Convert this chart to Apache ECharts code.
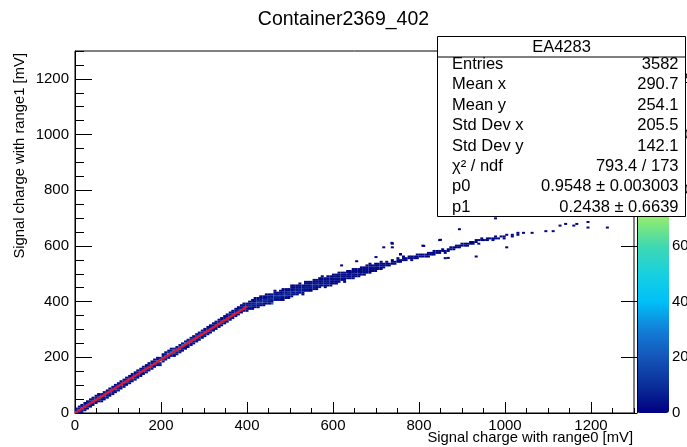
<!DOCTYPE html>
<html>
<head>
<meta charset="utf-8">
<script src="https://cdn.jsdelivr.net/npm/echarts@6/dist/echarts.min.js"></script>
<style>html,body{margin:0;padding:0;background:#fff;}#c{width:687px;height:447px;}</style>
</head>
<body>
<div id="c"></div>
<script>
const chartTitle = 'Container2369_402';
const xTitle = 'Signal charge with range0 [mV]';
const yTitle = 'Signal charge with range1 [mV]';
const axisRange = [0, 1300];
const zRange = [0, 130];
const statsTitle = 'EA4283';
const statLabels = ['Entries', 'Mean x', 'Mean y', 'Std Dev x', 'Std Dev y', 'χ² / ndf', 'p0', 'p1'];
const statValues = ['3582', '290.7', '254.1', '205.5', '142.1', '793.4 / 173', '0.9548 ± 0.003003', '0.2438 ± 0.6639'];
const fitSlope = 0.9548;
const fitIntercept = 0.2438;
const fitRange = [0, 400];

// [x bin centre, y bin centre, entries]
const linearBins = [
[3,3,30],[3,10,6],
[10,3,5],[10,10,25],[10,16,6],
[16,10,8],[16,16,22],[16,23,9],
[23,16,7],[23,23,20],[23,29,10],
[29,23,6],[29,29,18],[29,36,12],
[36,29,8],[36,36,16],[36,42,9],[36,49,3],
[42,36,7],[42,42,17],[42,49,8],
[49,42,9],[49,49,16],[49,55,6],
[55,49,10],[55,55,15],[55,62,5],
[62,55,11],[62,62,14],[62,49,3],
[68,62,12],[68,68,13],[68,55,4],
[75,68,14],[75,75,10],[75,62,5],
[81,75,15],[81,81,9],[81,68,6],
[88,81,14],[88,88,8],[88,75,7],
[94,88,16],[94,94,7],[94,81,8],
[101,94,15],[101,101,9],[101,88,6],
[107,101,16],[107,107,8],[107,94,7],
[114,107,14],[114,114,10],[114,101,6],
[120,114,17],[120,120,7],[120,107,8],
[127,120,16],[127,127,9],[127,114,7],
[133,127,18],[133,133,6],[133,120,8],
[140,133,17],[140,140,8],[140,127,7],
[146,140,19],[146,133,9],[146,146,5],
[153,146,20],[153,140,8],[153,153,6],
[159,153,21],[159,146,7],[159,159,6],
[166,159,22],[166,153,9],[166,166,4],
[172,166,24],[172,159,10],[172,172,5],
[179,172,26],[179,166,9],[179,179,4],
[185,179,28],[185,172,11],[185,185,5],
[192,185,30],[192,179,12],[192,192,4],
[198,185,95],[198,192,25],[198,179,9],
[205,198,32],[205,192,14],[205,205,5],
[211,205,30],[211,198,12],[211,211,6],
[218,211,44],[218,205,15],[218,218,8],
[224,218,35],[224,211,12],[224,224,6],
[231,218,28],[231,224,30],[231,211,7],
[237,224,26],[237,231,22],[237,218,6],
[244,231,28],[244,237,20],[244,224,7],
[250,244,38],[250,237,18],[250,231,5],
[257,250,30],[257,244,16],[257,237,6],
[263,250,24],[263,257,18],[263,244,6],
[270,257,26],[270,263,14],[270,250,5],
[276,263,24],[276,270,12],[276,257,6],
[283,270,22],[283,276,12],[283,263,5],
[289,276,20],[289,283,11],[289,270,6],
[296,283,21],[296,289,9],[296,276,5],
[302,289,19],[302,283,8],[302,296,6],
[309,296,18],[309,289,9],[309,302,5],
[315,302,17],[315,296,8],[315,309,4],
[322,309,16],[322,302,7],[322,315,5],
[328,315,15],[328,309,8],[328,322,4],
[335,322,14],[335,315,7],[335,328,5],
[341,328,14],[341,322,6],[341,335,4],
[348,335,13],[348,328,6],[348,341,4],
[354,341,12],[354,335,7],[354,348,3],
[361,348,12],[361,341,5],[361,354,4],
[367,354,11],[367,348,6],[367,361,3],
[374,361,11],[374,354,5],[374,367,3],
[380,367,10],[380,361,6],[380,374,3],
[387,374,10],[387,367,5],[387,380,3],
[393,380,9],[393,374,5],[393,387,3],
[400,380,9],[400,387,6],[400,374,4]
];

const linearEdgeBins = [
[3,16,2],[10,23,2],[16,3,2],[16,29,2],[23,10,3],[23,36,1],[29,16,2],[29,42,2],
[36,23,2],[42,29,2],[42,55,2],[49,36,3],[49,62,1],[55,42,2],[55,68,1],[62,42,1],[62,68,3],
[68,49,1],[68,75,3],[75,55,2],[75,81,2],[81,62,2],[81,88,2],[88,68,2],[88,94,3],
[94,75,2],[94,101,2],[101,81,2],[101,107,3],[107,88,2],[107,114,2],[114,94,2],[114,120,3],
[120,101,3],[120,127,2],[127,107,2],[127,133,2],[133,114,2],[133,140,3],[140,120,2],[140,146,2],
[146,127,3],[146,153,2],[153,133,2],[153,159,2],[159,140,2],[159,166,3],[166,146,2],[166,172,2],
[172,153,3],[172,179,2],[179,159,2],[179,185,2],[185,166,2],[185,192,3],[192,172,3],[192,198,2],
[198,172,3],[198,198,6],[205,185,4],[205,211,2],[211,192,3],[211,218,2],[218,198,4],[218,224,3],
[224,205,3],[224,231,2],[231,205,2],[231,231,6],[237,211,2],[237,237,5],[244,218,3],[244,244,4],
[250,224,2],[250,250,5],[257,231,2],[257,257,5],[263,237,2],[263,263,4],[270,244,2],[270,270,4],
[276,250,2],[276,276,3],[283,257,2],[283,283,3],[289,263,2],[289,289,3],[296,270,2],[296,296,3],
[302,276,2],[302,302,2],[309,283,2],[309,309,2],[315,289,2],[315,315,2],[322,296,2],[322,322,2],
[328,302,2],[328,328,2],[335,309,2],[335,335,2],[341,315,2],[341,341,2],[348,322,2],[348,348,2],
[354,328,2],[354,354,2],[361,335,2],[361,361,1],[367,341,2],[367,367,2],[374,348,2],[374,374,2],
[380,354,2],[380,380,2],[387,361,2],[387,387,2],[393,367,2],[393,393,2],[400,367,2],[400,393,3]
];

const bendBins = [
[406,380,6],[406,387,9],[406,393,4],
[413,380,3],[413,387,7],[413,393,6],[413,400,2],
[419,387,6],[419,393,10],[419,400,3],
[426,387,2],[426,393,7],[426,400,12],[426,406,4],
[432,393,6],[432,400,9],[432,406,5],
[439,393,2],[439,400,8],[439,406,10],[439,413,3],
[445,400,6],[445,406,9],[445,413,4],
[452,400,2],[452,406,7],[452,413,8],[452,419,4],
[458,393,24],[458,406,6],[458,413,10],[458,419,3],
[465,413,6],[465,419,8],[465,426,4],
[471,406,3],[471,413,5],[471,419,9],[471,426,3],
[478,413,6],[478,419,8],[478,426,5],[478,432,2],
[484,413,2],[484,419,5],[484,426,7],[484,432,4],
[491,419,6],[491,426,8],[491,432,3],[491,439,2],
[497,419,2],[497,426,5],[497,432,7],[497,439,4],
[504,426,6],[504,432,7],[504,439,3],[504,445,2],
[510,432,5],[510,439,7],[510,445,4],[510,452,1],
[517,426,2],[517,432,4],[517,439,6],[517,445,4],
[523,439,5],[523,445,6],[523,452,3],
[530,432,2],[530,439,4],[530,445,6],[530,452,3],
[536,445,5],[536,452,5],[536,458,3],
[543,445,4],[543,452,6],[543,458,2],[543,465,1],
[549,445,2],[549,452,4],[549,458,5],[549,465,3],
[556,452,4],[556,458,5],[556,465,2],
[562,452,1],[562,458,3],[562,465,5],[562,471,3],
[569,458,4],[569,465,4],[569,471,2],
[575,465,3],[575,471,5],[575,478,2],[575,484,1],
[582,458,1],[582,465,3],[582,471,4],[582,478,2],
[588,465,3],[588,471,4],[588,478,2],
[595,465,1],[595,471,3],[595,478,4],[595,484,2],
[601,471,3],[601,478,3],[601,484,2],
[608,471,1],[608,478,2],[608,484,4],[608,491,2],
[614,478,3],[614,484,3],[614,491,1],
[621,484,2],[621,491,3],[621,497,2],
[627,478,1],[627,484,2],[627,491,3],[627,497,1],
[634,491,2],[634,497,3],[634,504,2],
[640,491,2],[640,497,3],[640,504,1],
[647,491,2],[647,497,2],[647,504,2],[647,517,1],
[653,497,2],[653,504,3],[653,510,1],
[660,497,1],[660,504,3],[660,510,2],
[666,504,2],[666,510,2],[666,517,1],
[673,504,1],[673,510,3],[673,517,1],
[679,510,2],[679,517,2],[679,523,1],
[686,510,1],[686,517,2],[686,523,1],[686,536,1],
[692,517,2],[692,523,2],
[699,517,1],[699,523,2],[699,530,1],
[705,523,2],[705,530,1],
[712,523,1],[712,530,2],[712,536,1],
[718,523,1],[718,530,2],[718,536,1],[718,595,1],
[725,530,2],[725,536,1],[725,543,1],
[731,530,1],[731,536,2],
[738,536,1],[738,543,2],[738,549,1],[738,595,1],[738,608,1],
[744,536,2],[744,543,1],
[751,543,1],[751,549,2],[751,556,1],
[757,543,1],[757,549,2],[757,569,1],
[764,549,2],[764,556,1],[764,562,1],
[770,549,1],[770,556,2],
[777,556,1],[777,562,2],
[783,549,2],[783,556,1],[783,562,1],
[790,556,1],[790,562,2],
[796,556,1],[796,562,1],[796,569,1],
[803,562,2],[803,569,1],
[809,562,1],[809,569,2],[809,601,1],
[816,562,1],[816,569,2],
[822,562,1],[822,569,1],[822,575,1],
[829,569,2],[829,575,1],
[835,569,1],[835,575,1],[835,582,1],
[842,575,2],[842,582,1],
[848,575,1],[848,582,1],[848,621,1],
[855,582,1],[855,588,2],
[861,556,1],[861,575,1],[861,582,1],
[868,582,1],[868,588,1],
[874,588,2],[874,595,1],
[881,588,1],[881,595,1],
[887,595,1],[887,601,1],
[894,595,1],[894,601,1],[894,660,1],
[900,601,1],[900,608,1],
[907,601,1],[907,608,1],
[913,601,1],[913,608,1],
[920,608,1],[920,614,1],
[926,608,1],[926,614,1],
[933,614,1],[933,621,1],[933,562,1],
[939,608,1],[939,621,1],
[946,621,1],[946,627,1],
[952,621,1],
[959,621,1],[959,627,1],
[965,627,1],
[972,621,1],[972,627,1],
[978,627,1],[978,634,1],[978,699,1],
[985,627,1],
[991,634,1],
[998,627,1],[998,634,1]
];

const bendEdgeBins = [
[406,374,2],[406,400,2],[413,374,1],[413,406,2],[419,380,2],[419,406,3],[419,413,1],
[426,380,1],[426,413,2],[432,387,2],[432,413,3],[432,419,1],[439,387,1],[439,419,2],
[445,393,2],[445,419,3],[445,426,1],[452,393,1],[452,426,2],[458,400,2],[458,426,2],
[465,406,3],[465,432,2],[465,439,1],[471,432,2],[478,406,2],[478,439,2],[484,406,1],
[484,439,2],[484,445,1],[491,413,2],[491,445,2],[497,413,1],[497,445,2],[504,419,2],
[504,452,2],[504,458,1],[510,426,2],[510,458,2],[517,452,2],[517,458,1],[523,432,2],
[523,458,2],[523,465,1],[530,426,1],[530,458,2],[536,439,2],[536,465,2],[536,471,1],
[543,439,2],[543,471,2],[549,439,1],[549,471,2],[556,445,2],[556,471,2],[556,478,1],
[562,445,1],[562,478,2],[569,452,2],[569,478,2],[569,484,1],[575,458,2],[575,491,1],
[582,452,1],[582,484,2],[588,458,2],[588,484,2],[588,491,1],[595,458,1],[595,491,2],
[601,465,2],[601,491,2],[601,497,1],[608,465,1],[608,497,2],[614,471,2],[614,497,2],
[614,504,1],[621,478,1],[621,504,2],[627,471,1],[627,504,2],[634,484,2],[634,510,1],
[640,484,1],[640,504,2],[640,510,1],[647,484,1],[647,510,2],[653,491,2],[653,510,2],
[653,517,1],[660,491,1],[660,517,2],[666,497,2],[666,523,1],[673,497,1],[673,523,2],
[679,504,2],[679,530,1],[686,504,1],[686,530,1],[692,510,1],[692,530,2],[699,510,2],
[699,536,1],[705,517,1],[705,536,1],[712,517,1],[712,543,1],
[620,530,1],[655,545,1],[700,560,1],[737,611,1],[757,571,1],[811,600,1],[850,622,1],[868,557,1]
];

const tailBins = [
[1004,640,1],[1004,595,1],
[1017,640,1],[1017,634,1],
[1030,647,1],[1030,640,1],
[1043,647,1],
[1063,647,1],
[1095,653,1],
[1112,653,1],
[1128,673,1],
[1141,679,1],
[1160,673,1],
[1167,679,1],
[1193,686,1],[1193,666,1],
[1238,666,1]
];

const paletteColors = ['#000080','#0a2f9a','#1455b8','#1280d8','#00c0f8','#18d0e0','#40d8b0','#90ec70','#d0f448','#f8f030','#ffc020','#ff8c10','#ff5010','#e01818'];

const FONT = 'Liberation Sans, Arial, Helvetica, sans-serif';
const chart = echarts.init(document.getElementById('c'), null, {renderer: 'canvas'});

const allBins = linearBins.concat(linearEdgeBins, bendBins, bendEdgeBins, tailBins);
const fitData = [
  [fitRange[0], fitSlope * fitRange[0] + fitIntercept],
  [fitRange[1], fitSlope * fitRange[1] + fitIntercept]
];

const PX = 75, PY = 51, PW = 559, PH = 362;
const plainNum = function (v) { return String(v); };

function mainAxis(extra) {
  return Object.assign({
    type: 'value', min: axisRange[0], max: axisRange[1], interval: 200,
    axisLine: {show: true, onZero: false, lineStyle: {color: '#000', width: 1}},
    splitLine: {show: false}
  }, extra);
}
function minorAxis(extra) {
  return Object.assign({
    type: 'value', min: axisRange[0], max: axisRange[1], interval: 50,
    axisLine: {show: false},
    splitLine: {show: false},
    axisLabel: {show: false}
  }, extra);
}

const STAT_FONT = '16.5px ' + FONT;
const statsChildren = [
  {type: 'rect', zlevel: 1, z: 10, shape: {x: 0, y: 0, width: 248, height: 180}, style: {fill: '#fff', stroke: '#000', lineWidth: 1}},
  {type: 'line', zlevel: 1, z: 11, shape: {x1: 0, y1: 20.5, x2: 248, y2: 20.5}, style: {stroke: '#000', lineWidth: 1}},
  {type: 'text', zlevel: 1, z: 11, x: 124, y: 10.5, style: {text: statsTitle, align: 'center', verticalAlign: 'middle', font: STAT_FONT, fill: '#000'}}
];
statLabels.forEach(function (lab, i) {
  const yy = 28 + i * 20.4;
  statsChildren.push({type: 'text', x: 14.5, y: yy, zlevel: 1, z: 11, style: {text: lab, align: 'left', verticalAlign: 'middle', font: STAT_FONT, fill: '#000'}});
  statsChildren.push({type: 'text', x: 241, y: yy, zlevel: 1, z: 11, style: {text: statValues[i], align: 'right', verticalAlign: 'middle', font: STAT_FONT, fill: '#000'}});
});

const labelStyle = function (margin) {
  return {color: '#000', fontSize: 15, fontFamily: FONT, showMaxLabel: false, margin: margin, formatter: plainNum};
};

chart.setOption({
  animation: false,
  backgroundColor: '#fff',
  grid: [
    {left: PX, top: PY, width: PW, height: PH, show: true, borderColor: '#000', borderWidth: 1, backgroundColor: '#fff', containLabel: false, outerBoundsMode: 'none'},
    {left: 637, top: PY, width: 32, height: PH, show: false, containLabel: false, outerBoundsMode: 'none'}
  ],
  xAxis: [
    mainAxis({gridIndex: 0, position: 'bottom', axisTick: {inside: true, length: 11, lineStyle: {color: '#000'}}, axisLabel: labelStyle(5)}),
    minorAxis({gridIndex: 0, position: 'bottom', axisTick: {inside: true, length: 5, lineStyle: {color: '#000'}}}),
    {gridIndex: 1, type: 'value', min: 0, max: 1, show: false}
  ],
  yAxis: [
    mainAxis({gridIndex: 0, position: 'left', axisTick: {inside: true, length: 17, lineStyle: {color: '#000'}}, axisLabel: labelStyle(6)}),
    minorAxis({gridIndex: 0, position: 'left', axisTick: {inside: true, length: 9, lineStyle: {color: '#000'}}}),
    {gridIndex: 1, type: 'value', min: zRange[0], max: zRange[1], interval: 20, position: 'right', z: 6,
      axisLine: {show: true, lineStyle: {color: '#000'}},
      axisTick: {inside: true, length: 16, lineStyle: {color: '#000'}},
      splitLine: {show: false},
      axisLabel: labelStyle(3)}
  ],
  visualMap: {
    type: 'continuous', min: zRange[0], max: zRange[1], dimension: 2, seriesIndex: 0,
    calculable: false, realtime: false, hoverLink: false,
    left: 637, top: PY, itemWidth: 32, itemHeight: PH, padding: 0,
    text: null,
    inRange: {color: paletteColors},
    z: 1
  },
  series: [
    {
      type: 'scatter', xAxisIndex: 0, yAxisIndex: 0,
      symbol: 'rect', symbolSize: [3, 2],
      data: allBins, silent: true, z: 2,
      itemStyle: {opacity: 1}
    },
    {
      type: 'line', xAxisIndex: 0, yAxisIndex: 0,
      data: fitData, symbol: 'none', silent: true, z: 3,
      lineStyle: {color: '#f0102a', width: 2}
    }
  ],
  graphic: [
    {type: 'text', x: 343.5, y: 20, style: {text: chartTitle, align: 'center', verticalAlign: 'middle', font: '19.5px ' + FONT, fill: '#000'}},
    {type: 'text', x: 633, y: 438, style: {text: xTitle, align: 'right', verticalAlign: 'middle', font: '14.8px ' + FONT, fill: '#000'}},
    {type: 'text', x: 20, y: 53, rotation: Math.PI / 2, style: {text: yTitle, align: 'right', verticalAlign: 'middle', font: '14.8px ' + FONT, fill: '#000'}},
    {type: 'group', x: 437.5, y: 36.5, zlevel: 1, z: 10, children: statsChildren}
  ]
});
</script>
</body>
</html>
